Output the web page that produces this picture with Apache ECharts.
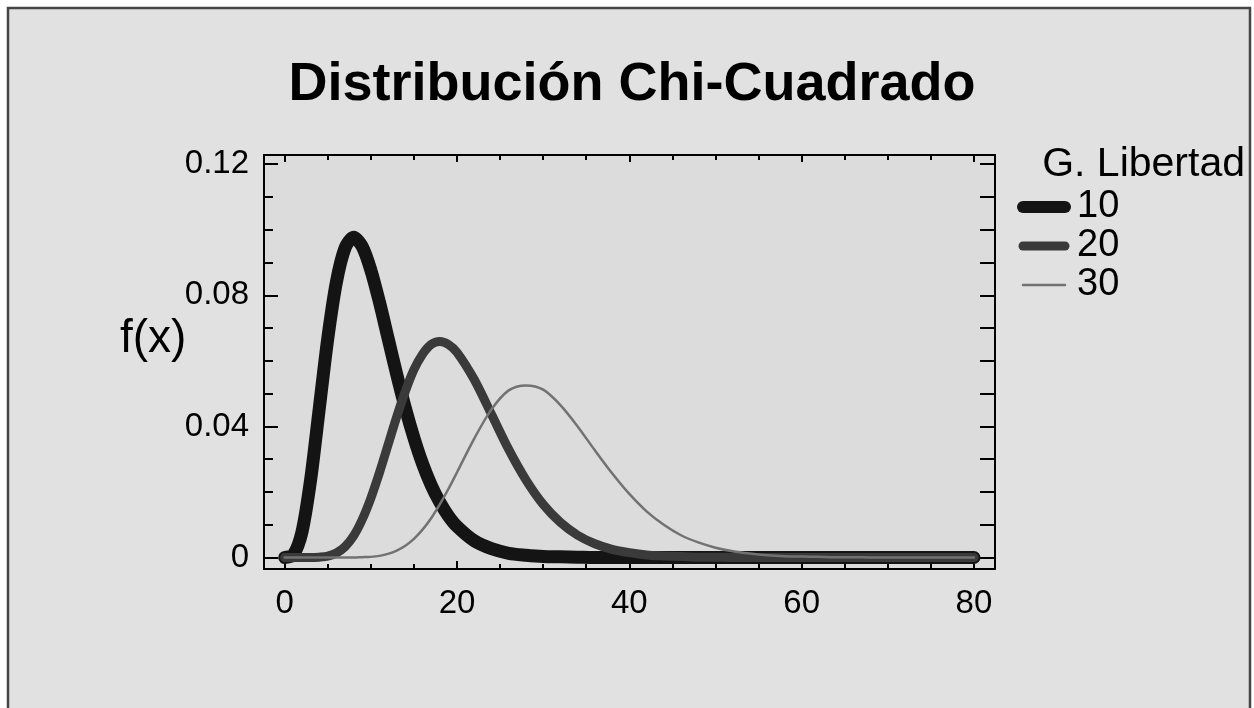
<!DOCTYPE html>
<html>
<head>
<meta charset="utf-8">
<title>Distribución Chi-Cuadrado</title>
<script src="https://cdn.jsdelivr.net/npm/echarts@6/dist/echarts.min.js"></script>
<style>
  html, body { margin: 0; padding: 0; background: #ffffff; }
  #chart { width: 1254px; height: 708px; }
</style>
</head>
<body>
<div id="chart"></div>
<script>
// valores de x (paso 1 hasta 20, luego paso 2)
var xValues = [
  0, 1, 2, 3, 4, 5, 6, 7, 8, 9, 10, 11, 12, 13, 14, 15, 16, 17, 18, 19, 20,
  22, 24, 26, 28, 30, 32, 34, 36, 38, 40, 42, 44, 46, 48, 50,
  52, 54, 56, 58, 60, 62, 64, 66, 68, 70, 72, 74, 76, 78, 80
];
// densidad, 10 grados de libertad
var df10 = [
  0, 0.0008, 0.0077, 0.0235, 0.0451, 0.0668, 0.0840, 0.0944, 0.0977, 0.0949, 0.0877,
  0.0779, 0.0669, 0.0559, 0.0456, 0.0365, 0.0286, 0.0221, 0.0169, 0.0127, 0.0095,
  0.0051, 0.0027, 0.0013, 0.0007, 0.0003, 0.0002, 0.0001, 0, 0, 0, 0, 0, 0, 0, 0,
  0, 0, 0, 0, 0, 0, 0, 0, 0, 0, 0, 0, 0, 0, 0
];
// 20 grados de libertad
var df20 = [
  0, 0, 0, 0, 0.0001, 0.0004, 0.0014, 0.0033, 0.0066, 0.0116, 0.0181,
  0.0259, 0.0344, 0.0429, 0.0507, 0.0573, 0.0620, 0.0650, 0.0659, 0.0650, 0.0626,
  0.0543, 0.0437, 0.0330, 0.0237, 0.0162, 0.0107, 0.0068, 0.0042, 0.0025, 0.0015,
  0.0008, 0.0005, 0.0003, 0.0001, 0.0001,
  0, 0, 0, 0, 0, 0, 0, 0, 0, 0, 0, 0, 0, 0, 0
];
// 30 grados de libertad
var df30 = [
  0, 0, 0, 0, 0, 0, 0, 0, 0, 0.0001, 0.0002,
  0.0005, 0.0011, 0.0021, 0.0036, 0.0057, 0.0085, 0.0120, 0.0162, 0.0209, 0.0260,
  0.0363, 0.0452, 0.0510, 0.0525, 0.0512, 0.0465, 0.0400, 0.0327, 0.0257, 0.0194,
  0.0141, 0.0100, 0.0068, 0.0046, 0.0030,
  0.0019, 0.0012, 0.0007, 0.0004, 0.0003, 0.0002, 0.0001, 0.0001, 0, 0, 0, 0, 0, 0, 0
];
var seriesNames = ['10', '20', '30'];
var xMajorTicks = [0, 20, 40, 60, 80];
var xMinorTicks = [0, 5, 10, 15, 20, 25, 30, 35, 40, 45, 50, 55, 60, 65, 70, 75, 80];
var yMajorTicks = [0, 0.04, 0.08, 0.12];
var yMinorTicks = [0, 0.01, 0.02, 0.03, 0.04, 0.05, 0.06, 0.07, 0.08, 0.09, 0.10, 0.11, 0.12];

var FONT = 'Liberation Sans, Arial, sans-serif';
var X_MIN = -2.4, X_MAX = 82.44;
var Y_MIN = -0.0035, Y_MAX = 0.1228;

function pairs(ys) {
  return xValues.map(function(x, i) { return [x, ys[i]]; });
}

function xAxisOf(position, ticks, len, withLabels, withLine) {
  return {
    type: 'value',
    position: position,
    min: X_MIN,
    max: X_MAX,
    axisLine: { show: withLine, onZero: false, lineStyle: { color: '#000', width: 2 } },
    axisTick: { show: true, inside: true, length: len, customValues: ticks, lineStyle: { color: '#000', width: 2 } },
    axisLabel: {
      show: withLabels,
      customValues: ticks,
      margin: 18,
      color: '#000',
      fontFamily: FONT,
      fontSize: 33
    },
    splitLine: { show: false }
  };
}

function yAxisOf(position, ticks, len, withLabels, withLine) {
  return {
    type: 'value',
    position: position,
    min: Y_MIN,
    max: Y_MAX,
    axisLine: { show: withLine, onZero: false, lineStyle: { color: '#000', width: 2 } },
    axisTick: { show: true, inside: true, length: len, customValues: ticks, lineStyle: { color: '#000', width: 2 } },
    axisLabel: {
      show: withLabels,
      customValues: ticks,
      margin: 15,
      color: '#000',
      fontFamily: FONT,
      fontSize: 33,
      formatter: function(v) { return v === 0 ? '0' : String(+v.toFixed(2)); }
    },
    splitLine: { show: false }
  };
}

var lineColors = ['#141414', '#3a3a3a', '#727272'];
var lineWidths = [13, 9, 2.5];
var legendWidths = [12, 9, 2.5];
var seriesData = [df10, df20, df30];

var chart = echarts.init(document.getElementById('chart'), null, { renderer: 'canvas' });
chart.setOption({
  backgroundColor: '#ffffff',
  animation: false,
  graphic: [
    {
      type: 'rect',
      z: -10,
      silent: true,
      shape: { x: 8, y: 8, width: 1242, height: 720 },
      style: { fill: '#e1e1e1', stroke: '#454545', lineWidth: 2.5 }
    }
  ],
  title: [
    {
      text: 'Distribución Chi-Cuadrado',
      left: 632,
      top: 58,
      textAlign: 'center',
      padding: 0,
      textStyle: { fontFamily: FONT, fontWeight: 'bold', fontSize: 54, color: '#000' }
    },
    {
      text: 'f(x)',
      left: 120,
      top: 316,
      padding: 0,
      textStyle: { fontFamily: FONT, fontWeight: 'normal', fontSize: 46, color: '#000' }
    },
    {
      text: 'G. Libertad',
      right: 9,
      top: 144,
      padding: 0,
      textStyle: { fontFamily: FONT, fontWeight: 'normal', fontSize: 41, color: '#000' }
    }
  ],
  legend: {
    orient: 'vertical',
    left: 1017,
    top: 188,
    padding: 0,
    itemGap: 1,
    itemWidth: 42,
    itemHeight: 14,
    data: seriesNames.map(function(name, i) {
      return {
        name: name,
        itemStyle: { opacity: 0 },
        lineStyle: { color: lineColors[i], width: legendWidths[i], cap: 'round' }
      };
    }),
    itemStyle: { opacity: 0 },
    textStyle: { fontFamily: FONT, fontSize: 38, color: '#000', padding: [0, 0, 0, 7] }
  },
  grid: {
    left: 264,
    right: 259,
    top: 155,
    bottom: 139,
    show: true,
    backgroundColor: '#dcdcdc',
    borderWidth: 0
  },
  xAxis: [
    xAxisOf('bottom', xMajorTicks, 8, true, true),
    xAxisOf('bottom', xMinorTicks, 5, false, false),
    xAxisOf('top', xMinorTicks, 5, false, true),
    xAxisOf('top', xMajorTicks, 7, false, false)
  ],
  yAxis: [
    yAxisOf('left', yMajorTicks, 14, true, true),
    yAxisOf('left', yMinorTicks, 9, false, false),
    yAxisOf('right', yMinorTicks, 15, false, true)
  ],
  series: seriesNames.map(function(name, i) {
    return {
      name: name,
      type: 'line',
      xAxisIndex: 0,
      yAxisIndex: 0,
      data: pairs(seriesData[i]),
      showSymbol: false,
      symbol: 'none',
      smooth: 0.3,
      clip: false,
      z: 2 + i,
      lineStyle: { color: lineColors[i], width: lineWidths[i], cap: 'round', join: 'round' },
      itemStyle: { color: lineColors[i] }
    };
  })
});
</script>
</body>
</html>
